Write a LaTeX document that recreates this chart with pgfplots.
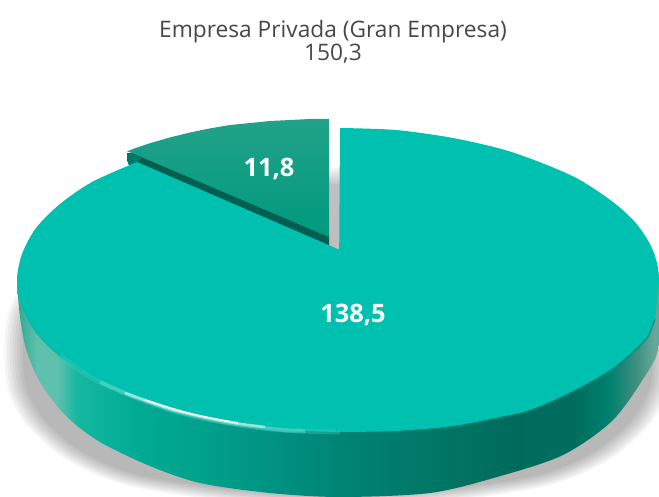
\documentclass[border=0pt]{standalone}
\usepackage{pgfplots}
\usepackage{pgfplotstable}
\usepackage{fontspec}
\setmainfont{Open Sans}
\pgfplotsset{compat=1.18}
\definecolor{topface}{HTML}{00C1AF}
\definecolor{slicedark}{HTML}{005F50}
\definecolor{slicetip}{HTML}{007A68}
\definecolor{slicegrad}{HTML}{22A288}
\definecolor{slicelow}{HTML}{009A80}
\definecolor{s0}{HTML}{2AA892}\definecolor{s1}{HTML}{60C0AE}\definecolor{s2}{HTML}{14B8A0}
\definecolor{s3}{HTML}{00AB94}\definecolor{s4}{HTML}{00A08A}\definecolor{s5}{HTML}{009080}
\definecolor{s6}{HTML}{008272}\definecolor{s7}{HTML}{007565}\definecolor{s8}{HTML}{006B5C}
\definecolor{s9}{HTML}{006E5F}\definecolor{s10}{HTML}{00806F}\definecolor{s11}{HTML}{3D8F80}
\definecolor{s12}{HTML}{6AA89C}\definecolor{s13}{HTML}{2E9A88}
\pgfdeclarehorizontalshading{sideshade}{100bp}{
 color(0bp)=(s0); color(25bp)=(s0); color(26.5bp)=(s1); color(28bp)=(s1); color(29.5bp)=(s2);
 color(34bp)=(s3); color(39.5bp)=(s4); color(45bp)=(s5); color(50bp)=(s6);
 color(57bp)=(s7); color(62.5bp)=(s8); color(67bp)=(s9); color(69.5bp)=(s10);
 color(71.5bp)=(s11); color(73bp)=(s12); color(74bp)=(s13); color(75bp)=(s13); color(100bp)=(s13)}
\pgfplotstableread{
x y
8 352
11 316
30 281
70 247
130 220
338 200
546 220
606 247
646 281
665 316
668 352
665 388
646 423
606 457
546 482
440 498
338 504
236 498
130 482
70 457
30 423
11 388
8 352
}\shadowtab
\begin{document}
\begin{tikzpicture}
\begin{axis}[at={(0,0)},anchor=south west,width=659bp,height=497bp,scale only axis,
  xmin=0,xmax=659,ymin=0,ymax=497,y dir=reverse,hide axis,no markers,clip=true]
% shadow, stacked for the blur
\pgfplotsinvokeforeach{0,1,2,3,4,5,6,7}{
 \addplot[draw=none,fill=black,fill opacity=0.04,smooth]
  table[x expr={338+(\thisrow{x}-338)*(0.955+0.008*#1)},y expr={352+(\thisrow{y}-352)*(0.95+0.011*#1)}] {\shadowtab};
}
% side wall
\addplot[draw=none,shading=sideshade,smooth] coordinates {
 (17,285)(20,317)(25,345)(33,368)(43,387)(67,417)(100,442)(150,466)(200,483)(270,493)(340,497)
 (430,493)(497,477)(563,455)(613,420)(647,373)(658,350)(660,320)(660,280)(500,280)(338,280)(17,285)};
% grey shadow in the gap
\addplot[draw=none,top color=white,bottom color=black!25] coordinates {(329,165)(341,165)(341,185)(329,185)(329,165)};
\addplot[draw=none,fill=black!25] coordinates {(329,184)(341,184)(341,252)(329,246)(329,184)};
% small slice: its cut wall, then its top
\addplot[draw=none,fill=slicedark] coordinates {(127,153)(127,160)(129,165)(137,163)(329,246)(329,236)(137,153)(127,153)};
\addplot[draw=none,fill=slicetip] coordinates {(127,154)(127,160)(129,165)(137,163)(142,158)(132,153)(127,154)};
\addplot[draw=none,top color=slicegrad,bottom color=slicelow] coordinates {
 (329,237)(329,119)(310,119)(290,120)(270,121)(250,123)(230,125)(210,128.4)(190,132.5)(170,137.4)(150,143.2)(135,148.2)(127,151.5)(132,153)(329,237)};
% large slice top: right half, left part, and the straight wedge between them
\addplot[draw=none,fill=topface,smooth] coordinates {
 (340,128)(396,130)(453,138)(505,150)(547,165)(580,180)(613,202)(635,222)(650,244)(657,263)(659,280)
 (657,298)(655,318)(647,337)(630,354)(613,368)(590,382)(563,396)(530,410)(505,416)(453,426)(396,431)(338,432)};
\addplot[draw=none,fill=topface,smooth] coordinates {
 (338,432)(282,430)(228,423)(177,412)(132,396)
 (92,378)(60,356)(36,332)(22,306)(17,280)(22,254)(36,228)(60,204)(92,182)(137,162)};
\addplot[draw=none,fill=topface] coordinates {(137,162)(340,250)(345,431)(300,420)(137,162)};
% rim
\addplot[draw=topface!70!black,line width=1.6pt,opacity=.6,smooth] coordinates {
 (282,431)(338,433)(396,432)(453,427)(505,417)(530,411)(563,397)(590,383)(613,369)(630,355)(647,338)(655,319)};
\addplot[draw=s2,line width=1.4pt,smooth] coordinates {(18,290)(22,306)(36,332)(60,356)(92,378)};
\addplot[draw=topface!80!white,line width=5pt,opacity=.4,smooth] coordinates {(60,356)(92,378)(132,396)(177,412)(228,423)(282,430)(340,432)};
\addplot[draw=topface!60!white,line width=3.5pt,opacity=.55,smooth] coordinates {(100,382)(132,396)(177,411.5)(228,423)(282,430)(305,431)};
\addplot[draw=topface!30!white,line width=2.6pt,opacity=.8,smooth] coordinates {(125,393)(150,402)(177,411)(228,422)(265,427)};
\addplot[draw=white,line width=1.8pt,opacity=.9,smooth] coordinates {(145,400)(177,410)(205,417)(238,423)};
% labels
\node[font=\fontsize{25.5}{28}\selectfont\bfseries,text=white] at (axis cs:269,169) {11,8};
\node[font=\fontsize{25.5}{28}\selectfont\bfseries,text=white] at (axis cs:353,315) {138,5};
\node[font=\fontsize{22.8}{22.5}\selectfont,text=black!72,align=center] at (axis cs:333,42) {Empresa Privada (Gran Empresa)\\150,3};
\end{axis}
\pgfresetboundingbox
\useasboundingbox (0,0) rectangle (659bp,497bp);
\end{tikzpicture}
\end{document}
